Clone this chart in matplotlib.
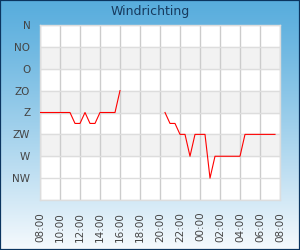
import matplotlib
matplotlib.use('Agg')
import matplotlib.pyplot as plt
import numpy as np

# hours after 08:00, half hour steps; None = no measurement
hours = [h * 0.5 for h in range(0, 48)]
richting = [4, 4, 4, 4, 4, 4, 4, 3.5, 3.5, 4, 3.5, 3.5, 4, 4, 4, 4, 5,
            None, None, None, None, None, None, None, None,
            4, 3.5, 3.5, 3, 3, 2, 3, 3, 3, 1, 2, 2, 2, 2, 2, 2, 3,
            3, 3, 3, 3, 3, 3]

y_labels = ['', 'NW', 'W', 'ZW', 'Z', 'ZO', 'O', 'NO', 'N']
x_labels = ['08:00', '10:00', '12:00', '14:00', '16:00', '18:00', '20:00',
            '22:00', '00:00', '02:00', '04:00', '06:00', '08:00']

fig = plt.figure(figsize=(3.0, 2.5), dpi=100)

# gradient background with dark frame
bg = fig.add_axes([0, 0, 1, 1], zorder=-10)
grad = np.linspace(0, 1, 256).reshape(-1, 1)
top = np.array([0x58, 0xad, 0xdd]) / 255.0
bot = np.array([0xf6, 0xfa, 0xfd]) / 255.0
img = top + (bot - top) * grad[..., None] ** 1.15
bg.imshow(img, aspect='auto', extent=[0, 1, 0, 1], origin='upper')
bg.set_xlim(0, 1)
bg.set_ylim(0, 1)
for s in bg.spines.values():
    s.set_edgecolor('#0b3560')
    s.set_linewidth(1.6)
bg.set_xticks([])
bg.set_yticks([])

fig.text(0.5, 1 - 12 / 250, 'Windrichting', ha='center', va='center',
         fontsize=9, color='#173a5e')

ax = fig.add_axes([40 / 300, 50 / 250, 240 / 300, 175 / 250])
ax.set_facecolor('white')

# alternating bands
for y0 in [2, 4, 6]:
    ax.axhspan(y0, y0 + 1, color='#f2f2f2', zorder=0)

y = np.array([np.nan if v is None else v for v in richting], dtype=float)
ax.plot(hours, y, color='#ff0000', linewidth=0.8, zorder=3)

ax.set_xlim(0, 24)
ax.set_ylim(0, 8)
ax.set_xticks(range(0, 25, 2))
ax.set_xticklabels(x_labels, rotation=90, fontsize=7.5, color='#444444')
ax.set_yticks(range(0, 9))
ax.set_yticklabels(y_labels, fontsize=7.5, color='#444444')
ax.tick_params(axis='x', length=0, pad=8.5)
ax.tick_params(axis='y', length=0, pad=7)

for x in range(0, 25, 2):
    ax.axvline(x, color='#cccccc', linewidth=1, zorder=1)
for yy in range(0, 9):
    ax.axhline(yy, color='#dddddd', linewidth=1, zorder=1)

for s in ax.spines.values():
    s.set_edgecolor('#dddddd')
    s.set_linewidth(1)

fig.savefig('out.png', dpi=100)
